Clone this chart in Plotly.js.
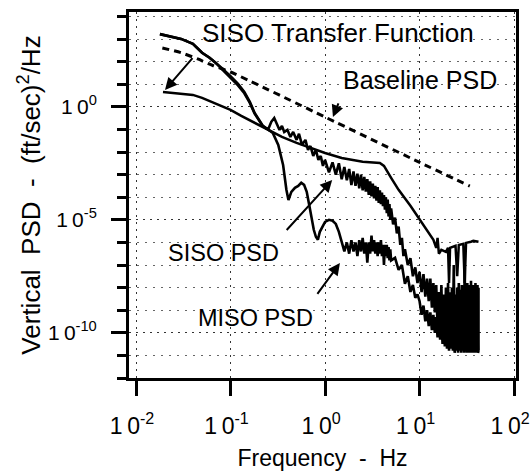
<!DOCTYPE html>
<html>
<head>
<meta charset="utf-8">
<script src="https://cdn.plot.ly/plotly-3.0.1.min.js"></script>
<style>
html,body{margin:0;padding:0;background:#fff;}
#chart{width:532px;height:471px;}
</style>
</head>
<body>
<div id="chart"></div>
<script>
// ---- data (frequency in Hz, PSD in (ft/sec)^2/Hz) ----
const baselineFreq = [0.019, 0.03, 0.045, 0.065, 0.1, 1, 10, 34];
const baselinePsd  = [407, 250, 132, 68, 35, 0.355, 3.5e-3, 3.1e-4];

const tfFreq = [0.0193, 0.04, 0.05, 0.07, 0.1, 0.13, 0.18, 0.25, 0.35, 0.5, 0.7, 1.0, 1.5, 2.5, 3.8, 4.2, 5.0, 6.0, 8.0, 10, 12, 14, 15, 15.5, 16, 17, 19, 20, 20.5, 21, 24, 25, 26, 29, 30, 31, 35, 37, 42];
const tfPsd  = [4.57, 3.39, 2.51, 1.35, 0.741, 0.398, 0.195, 0.0955, 0.0468, 0.0257, 0.0155, 9.12e-3, 5.5e-3, 3.72e-3, 3.31e-3, 2.45e-3, 7.24e-4, 2.14e-4, 4.17e-5, 1.1e-5, 3.63e-6, 1.32e-6, 5.75e-7, 1.58e-6, 3.16e-7, 4.68e-7, 3.8e-7, 5.75e-7, 1.6e-8, 5.75e-7, 7.08e-7, 3.2e-8, 7.76e-7, 8.71e-7, 1.6e-8, 9.55e-7, 1.07e-6, 1.17e-6, 1.07e-6];

const sisoFreq = [0.0179, 0.03, 0.04, 0.045, 0.05, 0.06, 0.07, 0.08, 0.1, 0.12, 0.14, 0.16, 0.18, 0.2, 0.22, 0.25,
  0.27, 0.29, 0.31, 0.33, 0.35, 0.37, 0.4, 0.43, 0.46, 0.5, 0.53, 0.57, 0.62, 0.66, 0.7, 0.75, 0.8, 0.85, 0.9, 0.95,
  1.0, 1.1, 1.2, 1.3, 1.4, 1.5, 1.6, 1.7, 1.8, 1.9, 2.0, 2.1, 2.2, 2.3, 2.4, 2.5, 2.6, 2.7, 2.8, 2.9,
  3.0, 3.1, 3.2, 3.3, 3.4, 3.5, 3.6, 3.7, 3.8, 3.9, 4.0, 4.1, 4.2, 4.3, 4.4, 4.5, 4.6, 4.7, 4.8, 4.9,
  5.0, 5.25, 5.5, 5.75, 6.0, 6.25, 6.5, 6.75, 7.0, 7.5, 8, 8.5, 9, 9.5,
  10, 10.5, 11, 11.5, 12, 12.5, 13, 13.5, 14, 14.5, 15, 15.5, 16, 16.5, 17, 17.5, 18, 18.5, 19, 19.5,
  20, 20.5, 21, 21.5, 22, 22.5, 23, 23.5, 24, 24.5, 25, 25.5, 26, 26.5, 27, 27.5, 28, 28.5, 29, 29.5,
  30, 30.5, 31, 31.5, 32, 32.5, 33, 33.5, 34, 34.5, 35, 35.5, 36, 36.5, 37, 37.5, 38, 38.5, 39, 39.5,
  40, 40.5, 41, 41.5, 42, 42];
const sisoPsd = [1660, 1020, 620, 370, 250, 150, 89, 54, 23, 10.5, 4.6, 1.66, 0.54, 0.26, 0.145, 0.1,
  0.219, 0.324, 0.178, 0.0955, 0.145, 0.0776, 0.0955, 0.0468, 0.0776, 0.0347, 0.0646, 0.0209, 0.0347, 0.0126, 0.0186, 6.76e-3, 0.0126, 4.47e-3, 6.76e-3, 2.45e-3,
  4.5e-3, 1.26e-3, 3.5e-3, 1e-3, 3.2e-3, 6.3e-4, 2.2e-3, 5.6e-4, 1.8e-3, 3.5e-4, 1.4e-3, 3.2e-4, 1.1e-3, 2.5e-4, 1e-3, 2e-4, 7.9e-4, 1.8e-4, 6.3e-4, 1.26e-4,
  5e-4, 1.1e-4, 4e-4, 8.9e-5, 3.2e-4, 7.1e-5, 2.8e-4, 5.6e-5, 2e-4, 5e-5, 1.6e-4, 4e-5, 1.26e-4, 2.8e-5, 1e-4, 2e-5, 7.9e-5, 1.4e-5, 5e-5, 1e-5,
  3.2e-5, 6.3e-6, 1.26e-5, 2.5e-6, 5e-6, 7.9e-7, 1.6e-6, 2.5e-7, 5e-7, 1e-7, 2e-7, 3.2e-8, 7.9e-8, 1.6e-8,
  5e-8, 6.3e-9, 4e-8, 4e-9, 2.5e-8, 2.5e-9, 2.5e-8, 1.3e-9, 1.6e-8, 8e-10, 1.3e-8, 1.6e-10, 6.3e-9, 1.3e-10, 1.3e-8, 8e-11, 5e-9, 6.3e-11, 1e-8, 5e-11,
  1.6e-8, 4e-11, 6.3e-9, 3.2e-11, 1e-8, 5e-11, 1e-7, 2.5e-11, 5e-9, 4e-11, 1e-8, 2.5e-11, 1.6e-8, 3.2e-11, 8e-9, 2e-11, 1.3e-8, 4e-11, 6.3e-9, 2.5e-11,
  1.6e-7, 2e-11, 1e-8, 3.2e-11, 1.6e-8, 2e-11, 8e-9, 2.5e-11, 1.3e-8, 1.6e-11, 2e-8, 3.2e-11, 6.3e-9, 2e-11, 1.3e-8, 2.5e-11, 1e-8, 1.6e-11, 1.6e-8, 2.5e-11,
  8e-9, 1.6e-11, 1.3e-8, 2e-11, 1e-8, 1.6e-11];

const misoFreq = [0.0179, 0.03, 0.04, 0.045, 0.05, 0.06, 0.07, 0.08, 0.1, 0.12, 0.14, 0.16, 0.18, 0.2, 0.22, 0.25,
  0.28, 0.32, 0.36, 0.39, 0.41, 0.44, 0.48, 0.52, 0.56, 0.6, 0.64, 0.68, 0.72, 0.76, 0.8, 0.84, 0.88, 0.95,
  1.0, 1.1, 1.2, 1.3, 1.4, 1.5, 1.6, 1.7, 1.8, 1.9, 2.0, 2.1, 2.2, 2.3, 2.4, 2.5, 2.6, 2.7, 2.8, 2.9,
  3.0, 3.1, 3.2, 3.3, 3.4, 3.5, 3.6, 3.7, 3.8, 3.9, 4.0, 4.1, 4.2, 4.3, 4.4, 4.5, 4.6, 4.7, 4.8, 4.9, 5.0,
  5.5, 6.0, 6.5, 7.0, 7.5, 8, 8.5, 9, 9.5,
  10, 10.5, 11, 11.5, 12, 12.5, 13, 13.5, 14, 14.5, 15, 15.5, 16, 16.5, 17, 17.5, 18, 18.5, 19, 19.5,
  20, 20.5, 21, 21.5, 22, 22.5, 23, 23.5, 24, 24.5, 25, 25.5, 26, 26.5, 27, 27.5, 28, 28.5, 29, 29.5,
  30, 30.5, 31, 31.5, 32, 32.5, 33, 33.5, 34, 34.5, 35, 35.5, 36, 36.5, 37, 37.5, 38, 38.5, 39, 39.5,
  40, 40.5, 41, 41.5, 42];
const misoPsd = [1660, 1020, 620, 370, 250, 150, 89, 50, 20, 9.0, 4.0, 1.5, 0.5, 0.25, 0.14, 0.1,
  0.0708, 0.0209, 2.69e-3, 2.14e-4, 7.59e-5, 1.74e-4, 2.63e-4, 3.16e-4, 4.37e-4, 3.55e-4, 1.74e-4, 4.57e-5, 1.0e-5, 3.63e-6, 1.78e-6, 1.32e-6, 2.95e-6, 5.37e-6,
  8.13e-6, 1.0e-5, 9.12e-6, 6.61e-6, 2.95e-6, 1.07e-6, 4e-7, 1e-6, 3.2e-7, 1.26e-6, 4e-7, 1e-6, 2.5e-7, 1.26e-6, 4e-7, 1.6e-6, 3.2e-7, 1e-6, 1.26e-7, 1e-6,
  3.2e-7, 2e-6, 4e-7, 1.26e-6, 3.2e-7, 1e-6, 2.5e-7, 1e-6, 3.2e-7, 1.26e-6, 2.5e-7, 7.9e-7, 1e-7, 7.9e-7, 2.5e-7, 7.9e-7, 2e-7, 6.3e-7, 1.6e-7, 5e-7, 1.6e-7,
  2.09e-7, 6.17e-8, 1.0e-7, 1.48e-8, 3.2e-8, 6.46e-9, 1.3e-8, 3.55e-9, 5e-9,
  2.5e-9, 6.3e-10, 1.6e-9, 3.2e-10, 1e-9, 2e-10, 8e-10, 1.3e-10, 6.3e-10, 1e-10, 5e-10, 6.3e-11, 4e-10, 5e-11, 5e-10, 3.2e-11, 2.5e-10, 2.5e-11, 3.2e-10, 2e-11,
  2e-10, 1.6e-11, 2.5e-10, 2e-11, 1.6e-10, 1.6e-11, 2e-10, 1.3e-11, 1.3e-10, 1.6e-11, 2.5e-10, 1.3e-11, 1.6e-10, 1.6e-11, 2e-10, 1.3e-11, 1.3e-10, 1.6e-11, 1.6e-10, 1.3e-11,
  2.5e-10, 1.6e-11, 1.3e-10, 1.3e-11, 2e-10, 1.6e-11, 1.3e-10, 1.3e-11, 1.6e-10, 1.6e-11, 2e-10, 1.3e-11, 1.3e-10, 1.6e-11, 1.6e-10, 1.3e-11, 2e-10, 1.6e-11, 1.3e-10, 1.3e-11,
  1.6e-10, 1.6e-11, 1.3e-10, 1.3e-11, 1.6e-11];

const xTickVals = [0.01, 0.1, 1, 10, 100];
const xTickText = ['1\u20090<sup>-2</sup>', '1\u20090<sup>-1</sup>', '1\u20090<sup>0</sup>', '1\u20090<sup>1</sup>', '1\u20090<sup>2</sup>'];
const yTickVals = [1e-10, 1e-5, 1];
const yTickText = ['1\u20090<sup>-10</sup>', '1\u20090<sup>-5</sup>', '1\u20090<sup>0</sup>'];
const yMinorVals = [1e-12, 1e-11, 1e-9, 1e-8, 1e-7, 1e-6, 1e-4, 1e-3, 1e-2, 1e-1, 1e1, 1e2, 1e3, 1e4];

const labels = ['SISO Transfer Function', 'Baseline PSD', 'SISO PSD', 'MISO PSD'];

// ---- figure ----
const FONT = 'Liberation Sans, Arial, Helvetica, sans-serif';

const traces = [
  {x: baselineFreq, y: baselinePsd, mode: 'lines', line: {color: '#000', width: 3, dash: '7px,5px', shape: 'spline', smoothing: 0.6}, hoverinfo: 'skip'},
  {x: tfFreq, y: tfPsd, mode: 'lines', line: {color: '#000', width: 2.5}, hoverinfo: 'skip'},
  {x: sisoFreq, y: sisoPsd, mode: 'lines', line: {color: '#000', width: 2.6}, hoverinfo: 'skip'},
  {x: misoFreq, y: misoPsd, mode: 'lines', line: {color: '#000', width: 2.6}, hoverinfo: 'skip'}
];

const ann = (text, x, y, size) => ({text, x, y, xref: 'paper', yref: 'paper', showarrow: false,
  font: {family: FONT, size: size, color: '#000'}, xanchor: 'center', yanchor: 'middle'});
const arrow = (x, y, ax, ay) => ({text: ' ', x, y, xref: 'paper', yref: 'paper', ax, ay, axref: 'pixel', ayref: 'pixel',
  showarrow: true, arrowhead: 2, arrowsize: 1.2, arrowwidth: 2, arrowcolor: '#000', standoff: 0, startstandoff: 0});

const layout = {
  width: 532, height: 471,
  margin: {l: 129, r: 16, t: 12, b: 93, pad: 0},
  paper_bgcolor: '#fff', plot_bgcolor: '#fff',
  showlegend: false,
  font: {family: FONT, color: '#000', size: 21},
  xaxis: {
    type: 'log', range: [-2.074, 2.02],
    tickmode: 'array', tickvals: xTickVals, ticktext: xTickText,
    ticks: 'outside', ticklen: 15, tickwidth: 3, tickcolor: '#000',
    ticklabelstandoff: 10, ticklabelshift: -4, ticklabeloverflow: 'allow',
    showline: true, linewidth: 3, linecolor: '#000', mirror: true,
    showgrid: true, gridcolor: '#333', gridwidth: 1, griddash: '2px,5px',
    zeroline: false, automargin: false,
    tickfont: {family: FONT, size: 23, color: '#000'},
    title: {text: 'Frequency  -  Hz', font: {family: FONT, size: 23, color: '#000'}, standoff: 18}
  },
  yaxis: {
    type: 'log', range: [-12, 4.2],
    tickmode: 'array', tickvals: yTickVals, ticktext: yTickText,
    ticks: 'outside', ticklen: 15, tickwidth: 3, tickcolor: '#000',
    ticklabelstandoff: 10,
    showline: true, linewidth: 3, linecolor: '#000', mirror: true,
    showgrid: true, gridcolor: '#333', gridwidth: 1, griddash: '2px,5px',
    zeroline: false, automargin: true,
    minor: {tickmode: 'array', tickvals: yMinorVals, ticks: 'outside', ticklen: 9, tickwidth: 3, tickcolor: '#000',
            showgrid: true, gridcolor: '#666', gridwidth: 1, griddash: '2px,6px'},
    tickfont: {family: FONT, size: 21, color: '#000'},
    title: {text: 'Vertical  PSD  -  (ft/sec)<sup>2</sup>/Hz', font: {family: FONT, size: 26, color: '#000'}, standoff: 0}
  },
  annotations: [
    ann(labels[0], 0.539, 0.943, 26),
    ann(labels[1], 0.752, 0.814, 25),
    ann(labels[2], 0.245, 0.342, 23.5),
    ann(labels[3], 0.326, 0.164, 23.5),
    arrow(0.093, 0.787, 32, -37),
    arrow(0.527, 0.713, 10, -25),
    arrow(0.525, 0.541, -50, 55),
    arrow(0.545, 0.314, -27, 37)
  ]
};

Plotly.newPlot('chart', traces, layout, {staticPlot: true, displayModeBar: false});
</script>
</body>
</html>
